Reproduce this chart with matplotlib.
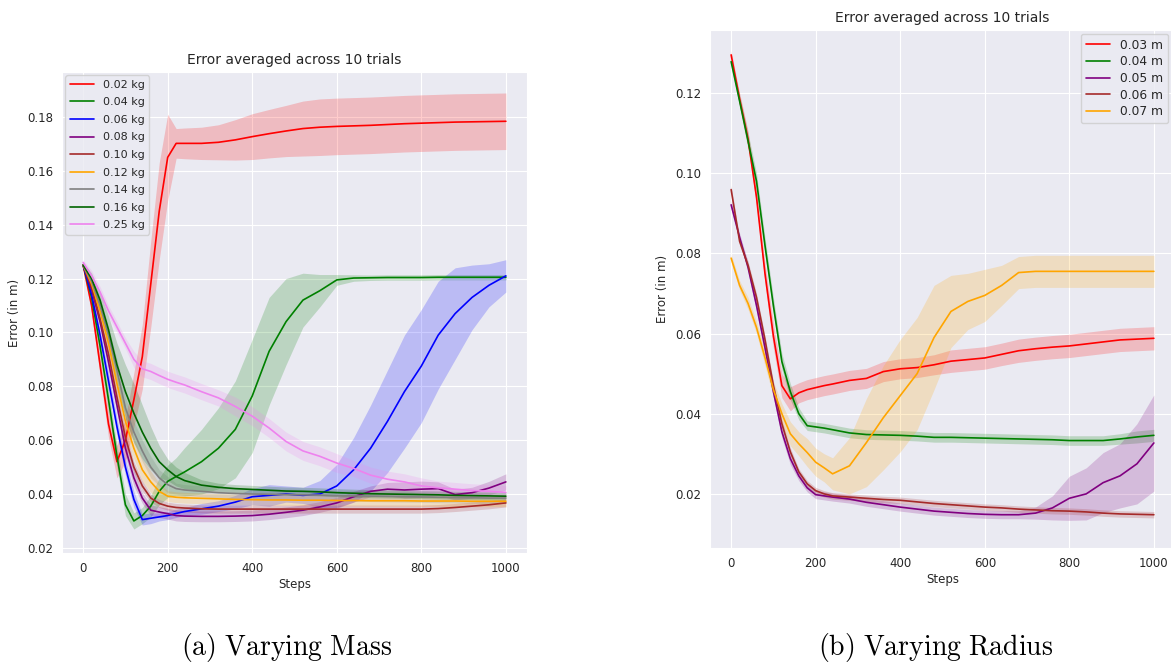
import numpy as np
import matplotlib
matplotlib.use("Agg")
import matplotlib.pyplot as plt
import seaborn as sns

# *********************************************
# Data
# *********************************************
steps = [0, 20, 40, 60, 80, 100, 120, 140, 160, 180, 200, 220, 240, 280, 320, 360,
         400, 440, 480, 520, 560, 600, 640, 680, 720, 760, 800, 840, 880, 920, 960, 1000]

# --- varying mass ---
mass_labels = ["0.02 kg", "0.04 kg", "0.06 kg", "0.08 kg", "0.10 kg",
               "0.12 kg", "0.14 kg", "0.16 kg", "0.25 kg"]
mass_colors = ["red", "green", "blue", "purple", "brown",
               "orange", "gray", "darkgreen", "violet"]

m002 = [0.125, 0.110, 0.088, 0.066, 0.052, 0.060, 0.075, 0.091, 0.118, 0.145, 0.165, 0.1702, 0.1702, 0.1702, 0.1706, 0.1715,
        0.1727, 0.1738, 0.1748, 0.1757, 0.1762, 0.1765, 0.1767, 0.1769, 0.1772, 0.1775, 0.1777, 0.1779, 0.1781, 0.1782, 0.1783, 0.1784]
s002 = [0.001, 0.003, 0.004, 0.005, 0.006, 0.008, 0.010, 0.012, 0.016, 0.018, 0.016, 0.0055, 0.0057, 0.006, 0.0065, 0.0075,
        0.0085, 0.009, 0.0095, 0.0102, 0.0105, 0.0105, 0.0105, 0.0105, 0.0105, 0.0105, 0.0105, 0.0105, 0.0105, 0.0105, 0.0105, 0.0105]

m004 = [0.125, 0.113, 0.095, 0.075, 0.054, 0.036, 0.030, 0.032, 0.0355, 0.041, 0.0447, 0.0465, 0.0482, 0.052, 0.057, 0.064,
        0.0764, 0.093, 0.104, 0.112, 0.1155, 0.1195, 0.1202, 0.1203, 0.1204, 0.1204, 0.1204, 0.1205, 0.1205, 0.1205, 0.1205, 0.1205]
s004 = [0.001, 0.002, 0.003, 0.004, 0.004, 0.004, 0.003, 0.003, 0.004, 0.005, 0.006, 0.007, 0.009, 0.012, 0.015, 0.018,
        0.021, 0.020, 0.016, 0.010, 0.006, 0.002, 0.0012, 0.001, 0.001, 0.001, 0.001, 0.001, 0.001, 0.001, 0.001, 0.001]

m006 = [0.125, 0.114, 0.099, 0.082, 0.065, 0.050, 0.038, 0.0305, 0.031, 0.0315, 0.032, 0.0328, 0.0335, 0.0345, 0.0355, 0.037,
        0.039, 0.0395, 0.040, 0.0395, 0.040, 0.043, 0.049, 0.057, 0.067, 0.078, 0.0875, 0.099, 0.107, 0.113, 0.1175, 0.121]
s006 = [0.001, 0.002, 0.002, 0.003, 0.003, 0.003, 0.003, 0.002, 0.002, 0.0015, 0.0015, 0.0015, 0.0015, 0.002, 0.002, 0.0025,
        0.003, 0.004, 0.003, 0.003, 0.005, 0.008, 0.012, 0.016, 0.019, 0.021, 0.021, 0.020, 0.017, 0.012, 0.008, 0.006]

m008 = [0.125, 0.116, 0.104, 0.089, 0.073, 0.057, 0.046, 0.0385, 0.034, 0.0333, 0.0327, 0.032, 0.0318, 0.0317, 0.0317, 0.0318,
        0.032, 0.0325, 0.0332, 0.034, 0.0352, 0.0367, 0.039, 0.041, 0.0418, 0.0415, 0.0418, 0.042, 0.0398, 0.0405, 0.0422, 0.0445]
s008 = [0.001, 0.002, 0.002, 0.003, 0.003, 0.003, 0.003, 0.002, 0.002, 0.002, 0.002, 0.002, 0.002, 0.002, 0.002, 0.002,
        0.002, 0.002, 0.002, 0.002, 0.002, 0.002, 0.002, 0.002, 0.0025, 0.003, 0.003, 0.0025, 0.002, 0.002, 0.0025, 0.003]

m010 = [0.125, 0.117, 0.105, 0.092, 0.076, 0.061, 0.050, 0.043, 0.0385, 0.0365, 0.0355, 0.035, 0.0348, 0.0345, 0.0344, 0.0344,
        0.0344, 0.0344, 0.0344, 0.0344, 0.0344, 0.0344, 0.0344, 0.0344, 0.0344, 0.0344, 0.0344, 0.0346, 0.035, 0.0355, 0.036, 0.0367]
s010 = [0.001, 0.002, 0.002, 0.003, 0.003, 0.003, 0.002, 0.002, 0.0015, 0.0015, 0.0015, 0.0015, 0.0015, 0.0015, 0.0015, 0.0015,
        0.0015, 0.0015, 0.0015, 0.0015, 0.0015, 0.0015, 0.0015, 0.0015, 0.0015, 0.0015, 0.0015, 0.0015, 0.0015, 0.0015, 0.0015, 0.0015]

m012 = [0.125, 0.118, 0.108, 0.096, 0.081, 0.067, 0.057, 0.049, 0.0445, 0.041, 0.0392, 0.0388, 0.0386, 0.0384, 0.0382, 0.038,
        0.0379, 0.0378, 0.0378, 0.0377, 0.0377, 0.0376, 0.0376, 0.0375, 0.0375, 0.0375, 0.0374, 0.0374, 0.0374, 0.0373, 0.0373, 0.0373]
s012 = [0.001, 0.002, 0.003, 0.003, 0.004, 0.004, 0.004, 0.004, 0.004, 0.003, 0.002, 0.002, 0.002, 0.002, 0.002, 0.002,
        0.002, 0.002, 0.002, 0.002, 0.002, 0.002, 0.002, 0.002, 0.002, 0.002, 0.002, 0.002, 0.002, 0.002, 0.002, 0.002]

m014 = [0.125, 0.119, 0.110, 0.099, 0.086, 0.072, 0.063, 0.056, 0.050, 0.046, 0.0435, 0.042, 0.0415, 0.041, 0.0405, 0.0402,
        0.040, 0.0399, 0.0398, 0.0397, 0.0396, 0.0394, 0.0393, 0.0392, 0.0391, 0.039, 0.0389, 0.0388, 0.0387, 0.0386, 0.0385, 0.0385]
s014 = [0.001, 0.002, 0.003, 0.003, 0.004, 0.004, 0.004, 0.004, 0.004, 0.003, 0.003, 0.002, 0.002, 0.002, 0.002, 0.002,
        0.002, 0.002, 0.002, 0.002, 0.002, 0.002, 0.002, 0.002, 0.002, 0.002, 0.002, 0.002, 0.002, 0.002, 0.002, 0.002]

m016 = [0.125, 0.120, 0.112, 0.101, 0.088, 0.078, 0.070, 0.063, 0.057, 0.052, 0.049, 0.0465, 0.045, 0.0433, 0.0425, 0.042,
        0.0417, 0.0414, 0.0411, 0.041, 0.0408, 0.0405, 0.0403, 0.0401, 0.04, 0.0399, 0.0398, 0.0397, 0.0395, 0.0394, 0.0393, 0.0392]
s016 = [0.001, 0.002, 0.003, 0.005, 0.008, 0.010, 0.011, 0.010, 0.008, 0.006, 0.004, 0.0035, 0.003, 0.002, 0.0015, 0.0015,
        0.0015, 0.0015, 0.0015, 0.0015, 0.0015, 0.0015, 0.0015, 0.0015, 0.0015, 0.0015, 0.0015, 0.0015, 0.0015, 0.0015, 0.0015, 0.0015]

m025 = [0.126, 0.121, 0.115, 0.108, 0.102, 0.096, 0.090, 0.0865, 0.0855, 0.084, 0.0826, 0.0815, 0.0805, 0.078, 0.0757, 0.0725,
        0.0689, 0.0645, 0.0595, 0.056, 0.054, 0.0515, 0.0495, 0.047, 0.0455, 0.0445, 0.043, 0.0423, 0.0418, 0.0413, 0.041, 0.0406]
s025 = [0.001, 0.002, 0.002, 0.002, 0.002, 0.002, 0.003, 0.003, 0.003, 0.003, 0.003, 0.003, 0.003, 0.003, 0.003, 0.0035,
        0.0035, 0.0035, 0.0035, 0.0035, 0.0035, 0.0035, 0.003, 0.003, 0.003, 0.003, 0.003, 0.0025, 0.0025, 0.0025, 0.0025, 0.0025]

mass_means = [m002, m004, m006, m008, m010, m012, m014, m016, m025]
mass_stds = [s002, s004, s006, s008, s010, s012, s014, s016, s025]

# --- varying radius ---
radius_labels = ["0.03 m", "0.04 m", "0.05 m", "0.06 m", "0.07 m"]
radius_colors = ["red", "green", "purple", "brown", "orange"]

r003 = [0.1295, 0.1185, 0.1085, 0.094, 0.075, 0.0593, 0.047, 0.0437, 0.0452, 0.046, 0.0465, 0.047, 0.0474, 0.0483, 0.0488, 0.0505,
        0.0512, 0.0515, 0.0522, 0.0531, 0.0535, 0.0539, 0.0548, 0.0557, 0.0562, 0.0566, 0.0569, 0.0574, 0.0579, 0.0584, 0.0586, 0.0588]
t003 = [0.001, 0.0015, 0.002, 0.002, 0.0025, 0.003, 0.003, 0.003, 0.0025, 0.0025, 0.0025, 0.0025, 0.0025, 0.0025, 0.0025, 0.0025,
        0.0025, 0.0025, 0.0025, 0.0028, 0.0028, 0.0028, 0.0028, 0.0029, 0.0029, 0.0029, 0.0029, 0.0029, 0.0029, 0.0029, 0.0029, 0.0029]

r004 = [0.1278, 0.118, 0.108, 0.098, 0.082, 0.0669, 0.053, 0.0455, 0.040, 0.037, 0.0367, 0.0364, 0.036, 0.0352, 0.0348, 0.0347,
        0.0346, 0.0344, 0.0341, 0.0341, 0.034, 0.0339, 0.0338, 0.0337, 0.0336, 0.0335, 0.0333, 0.0333, 0.0333, 0.0337, 0.0342, 0.0346]
t004 = [0.001, 0.0015, 0.002, 0.002, 0.002, 0.002, 0.002, 0.002, 0.0015, 0.0012, 0.0012, 0.0012, 0.0012, 0.0012, 0.0012, 0.0012,
        0.0012, 0.0012, 0.0012, 0.0012, 0.0012, 0.0012, 0.0012, 0.0012, 0.0012, 0.0012, 0.0012, 0.0012, 0.0012, 0.0013, 0.0015, 0.0015]

r005 = [0.0921, 0.084, 0.0765, 0.067, 0.0565, 0.0455, 0.0355, 0.0288, 0.0245, 0.0215, 0.0198, 0.0195, 0.0192, 0.0187, 0.0179, 0.0173,
        0.0167, 0.0162, 0.0157, 0.0154, 0.0151, 0.0149, 0.0148, 0.0148, 0.0152, 0.0165, 0.0189, 0.020, 0.0228, 0.0245, 0.0275, 0.0327]
t005 = [0.001, 0.001, 0.0012, 0.0015, 0.0015, 0.0015, 0.0015, 0.0015, 0.0012, 0.001, 0.001, 0.001, 0.001, 0.001, 0.001, 0.001,
        0.001, 0.001, 0.001, 0.001, 0.001, 0.001, 0.001, 0.001, 0.0015, 0.003, 0.0055, 0.0065, 0.0075, 0.008, 0.010, 0.012]

r006 = [0.0959, 0.083, 0.077, 0.069, 0.0585, 0.047, 0.0375, 0.0305, 0.0255, 0.0225, 0.0208, 0.020, 0.0195, 0.0192, 0.0189, 0.0186,
        0.0184, 0.018, 0.0176, 0.0173, 0.017, 0.0167, 0.0165, 0.0162, 0.016, 0.0158, 0.0157, 0.0155, 0.0152, 0.015, 0.0149, 0.0148]
t006 = [0.001, 0.001, 0.001, 0.001, 0.001, 0.001, 0.001, 0.001, 0.0008, 0.0008, 0.0008, 0.0008, 0.0008, 0.0008, 0.0008, 0.0008,
        0.0008, 0.0008, 0.0008, 0.0008, 0.0008, 0.0008, 0.0008, 0.0008, 0.0008, 0.0008, 0.0008, 0.0008, 0.0008, 0.0008, 0.0008, 0.0008]

r007 = [0.0788, 0.072, 0.0675, 0.0615, 0.054, 0.046, 0.040, 0.035, 0.0325, 0.0303, 0.0279, 0.0265, 0.025, 0.027, 0.0328, 0.039,
        0.0445, 0.050, 0.059, 0.0655, 0.068, 0.0695, 0.072, 0.0752, 0.0755, 0.0755, 0.0755, 0.0755, 0.0755, 0.0755, 0.0755, 0.0755]
t007 = [0.001, 0.0012, 0.0015, 0.0015, 0.002, 0.002, 0.0025, 0.003, 0.003, 0.0035, 0.0035, 0.0035, 0.004, 0.007, 0.011, 0.013,
        0.014, 0.014, 0.013, 0.009, 0.007, 0.0065, 0.005, 0.004, 0.004, 0.004, 0.004, 0.004, 0.004, 0.004, 0.004, 0.004]

radius_means = [r003, r004, r005, r006, r007]
radius_stds = [t003, t004, t005, t006, t007]


# *********************************************
# Plots
# *********************************************
def error_plot(ax, means, stds, labels, colors):
	x = np.array(steps)
	for m, s, lab, c in zip(means, stds, labels, colors):
		m = np.array(m)
		s = np.array(s)
		ax.plot(x, m, color=c, lw=1.2, label=lab)
		ax.fill_between(x, m - s, m + s, color=c, alpha=0.2, lw=0)
	ax.set_title("Error averaged across 10 trials", fontsize=10)
	ax.set_xlabel("Steps", fontsize=8.5, labelpad=2)
	ax.set_ylabel("Error (in m)", fontsize=8.5)
	ax.tick_params(labelsize=8.5, pad=3)
	ax.set_xlim(-50, 1050)
	ax.set_xticks([0, 200, 400, 600, 800, 1000])


sns.set_style("darkgrid")
fig = plt.figure(figsize=(11.71, 6.69), dpi=100)

ax1 = fig.add_axes([62 / 1171, 1 - 553 / 669, 465 / 1171, 481 / 669])
error_plot(ax1, mass_means, mass_stds, mass_labels, mass_colors)
ax1.set_ylim(0.0181, 0.1967)
ax1.set_yticks([0.02, 0.04, 0.06, 0.08, 0.10, 0.12, 0.14, 0.16, 0.18])
ax1.legend(loc="upper left", fontsize=8, labelspacing=0.68, borderaxespad=0.3,
           handlelength=2.2)

ax2 = fig.add_axes([710 / 1171, 1 - 548 / 669, 465 / 1171, 518 / 669])
error_plot(ax2, radius_means, radius_stds, radius_labels, radius_colors)
ax2.set_ylim(0.0065, 0.1357)
ax2.set_yticks([0.02, 0.04, 0.06, 0.08, 0.10, 0.12])
ax2.legend(loc="upper right", fontsize=8.8, labelspacing=0.3, borderaxespad=0.3,
           bbox_to_anchor=(0.993, 1.0))

plt.rcParams["mathtext.fontset"] = "cm"
fig.text(287 / 1171, 1 - 664 / 669, r"$\mathrm{(a)\ Varying\ Mass}$", fontsize=20,
         ha="center", va="bottom", color="black")
fig.text(936 / 1171, 1 - 664 / 669, r"$\mathrm{(b)\ Varying\ Radius}$", fontsize=20,
         ha="center", va="bottom", color="black")

plt.savefig("out.png", dpi=100, facecolor="white")
